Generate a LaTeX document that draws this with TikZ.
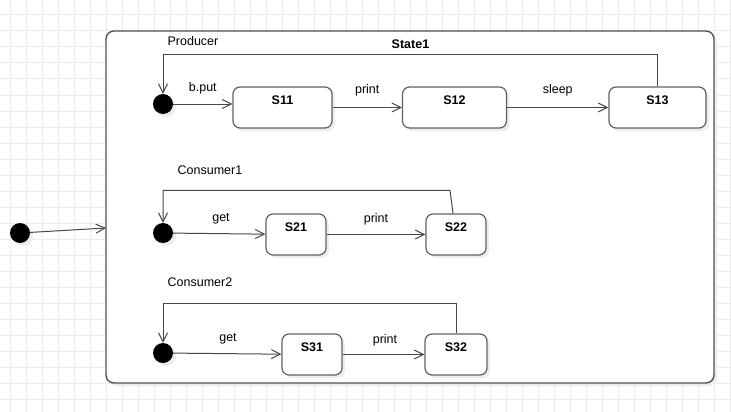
\documentclass[tikz,border=0pt]{standalone}
\usepackage{fontspec}
\setmainfont{Liberation Sans}
\usetikzlibrary{arrows.meta}

\tikzset{
  shade3/.style={preaction={fill=black!7, transform canvas={shift={(3pt,-3pt)}}}},
  stbox/.style={draw=black!62, line width=1.2pt, rounded corners=7pt, fill=white,
    shade3, minimum height=41pt, inner sep=0pt, text height=9pt, text depth=15pt,
    font=\fontsize{12.5}{15}\selectfont\bfseries},
  startdot/.style={circle, fill=black, minimum size=20pt, inner sep=0pt, shade3},
  trans/.style={draw=black!72, line width=1pt, -{Straight Barb[length=9pt,width=9pt]}},
  lbl/.style={inner sep=0pt}
}

\begin{document}
\begin{tikzpicture}[x=1pt, y=-1pt, font=\fontsize{12.5}{15}\selectfont]
        \def \rowP {104};
        \def \rowA {233};
        \def \rowB {353};

        % фон и сетка
        \fill [white] ( 0, 0 ) rectangle ( 731, 412 );
        \useasboundingbox ( 0, 0 ) rectangle ( 731, 412 );
        \foreach \gx in {10,26,...,730} \draw [black!8, line width=1pt] ( \gx, 0 ) -- ( \gx, 412 );
        \foreach \gy in {15,31,...,412} \draw [black!8, line width=1pt] ( 0, \gy ) -- ( 731, \gy );

        % составное состояние
        \node [draw=black!68, line width=1.4pt, rounded corners=8pt, fill=white, shade3,
               minimum width=608pt, minimum height=352pt] (state1) at ( 410, 207 ) {};
        \node [lbl, font=\fontsize{12.5}{15}\selectfont\bfseries] (title) at ( 410.5, 44 ) {State1};

        % вход
        \node [startdot] (i0) at ( 20, 233 ) {};
        \coordinate (entry) at ( 106, 228 );
        \draw [trans] (i0) -- (entry);

        % Producer
        \node [lbl] (producer) at ( 193, 41 ) {Producer};
        \node [startdot] (p0) at ( 163, \rowP ) {};
        \node [stbox, minimum width=99pt] (s11) at ( 282.5, 107.5 ) {S11};
        \node [stbox, minimum width=104pt] (s12) at ( 454.5, 107.5 ) {S12};
        \node [stbox, minimum width=97pt] (s13) at ( 657.5, 107.5 ) {S13};
        \draw [trans] (p0.east) -- (p0 -| s11.west) node [lbl, midway, above=9pt] (tp1) {b.put};
        \draw [trans] (s11.east) -- (s12.west) node [lbl, midway, above=11pt] (tp2) {print};
        \draw [trans] (s12.east) -- (s13.west) node [lbl, midway, above=11pt] (tp3) {sleep};
        \draw [trans] (s13.north) -- (s13.north |- 0, 55) -| (p0.north);

        % Consumer1
        \node [lbl] (consumer1) at ( 210, 170 ) {Consumer1};
        \node [startdot] (c1) at ( 163, \rowA ) {};
        \node [stbox, minimum width=60pt] (s21) at ( 296, 234.5 ) {S21};
        \node [stbox, minimum width=60pt] (s22) at ( 456, 234.5 ) {S22};
        \draw [trans] (c1) -- (s21);
        \node [lbl] (ta1) at ( 221, 219 ) {get};
        \draw [trans] (s21) -- (s22);
        \node [lbl] (ta2) at ( 376, 219 ) {print};
        \draw [trans] ([xshift=-3pt]s22.north) -- ++( -3, -23 ) -| (c1.north);

        % Consumer2
        \node [lbl] (consumer2) at ( 200, 282 ) {Consumer2};
        \node [startdot] (c2) at ( 163, \rowB ) {};
        \node [stbox, minimum width=60pt] (s31) at ( 312, 354.5 ) {S31};
        \node [stbox, minimum width=62pt] (s32) at ( 456, 354.5 ) {S32};
        \draw [trans] (c2) -- (s31);
        \node [lbl] (tb1) at ( 228, 339 ) {get};
        \draw [trans] (s31) -- (s32);
        \node [lbl] (tb2) at ( 385, 340 ) {print};
        \draw [trans] (s32.north) -- (s32.north |- 0, 303) -| (c2.north);
\end{tikzpicture}
\end{document}
